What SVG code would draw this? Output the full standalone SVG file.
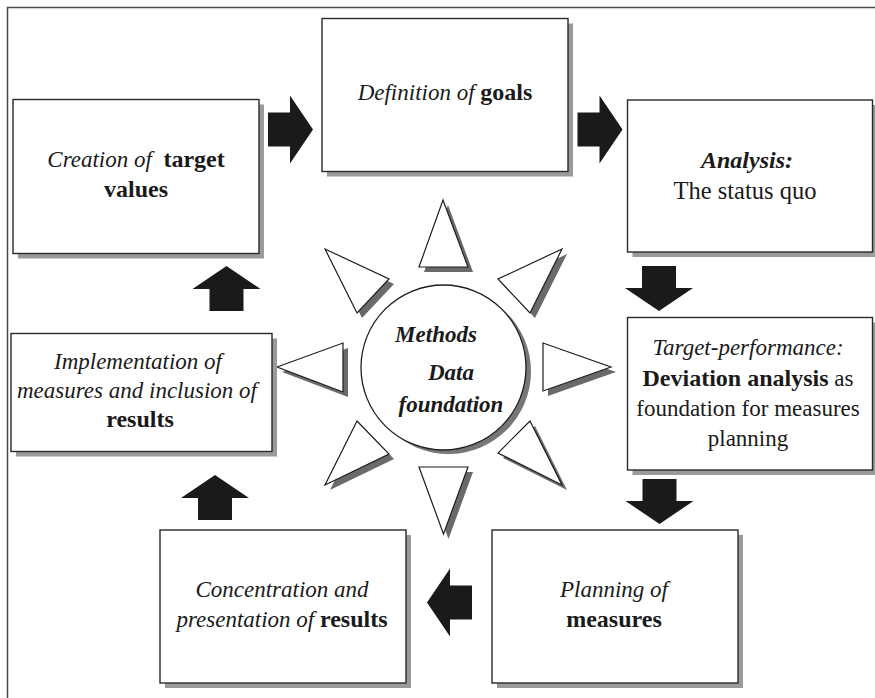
<svg xmlns="http://www.w3.org/2000/svg" width="875" height="698" viewBox="0 0 875 698" font-family="Liberation Serif, DejaVu Serif, serif">
  <style>
    text { font-size: 23px; fill: #1a1a1a; text-anchor: middle; }
    .i { font-style: italic; }
    .b { font-weight: bold; font-size: 24px; }
    .bi { font-weight: bold; font-style: italic; }
    .box { fill: #ffffff; stroke: #2a2a2a; stroke-width: 1.4; }
    .boxshadow { fill: #9a9a9a; }
    .ray { fill: #ffffff; stroke: #1e1e1e; stroke-width: 1.2; stroke-linejoin: miter; }
    .rayshadow { fill: #6a6a6a; }
    .frame { fill: none; stroke: #4a4a4a; stroke-width: 1.5; }
    .flow { fill: #1a1a1a; }
  </style>
  <defs>
    <!-- block arrow pointing right, tail at origin -->
    <path id="blockArrow" d="M0,-17 H22 V-34 L45,0 L22,34 V17 H0 Z"/>
  </defs>

  <rect width="875" height="698" fill="#ffffff"/>

  <!-- page frame (left and top rules) -->
  <path class="frame" d="M7.5,698 V7.5 H875"/>

  <!-- central hub: rays -->
  <g id="rays">
    <g class="rayshadow" transform="translate(5,5)">
      <polygon points="443,200 468,267 419,267"/>
      <polygon points="419,467 468,467 443.5,534"/>
      <polygon points="277,367 343,343 343,392"/>
      <polygon points="543,343 543,391 611,367"/>
      <polygon points="325,249 389,279 357,313"/>
      <polygon points="562,249 498,279 530,313"/>
      <polygon points="357,421 389,454 325,485"/>
      <polygon points="530,421 498,453 562,485"/>
    </g>
    <g class="ray">
      <polygon points="443,200 468,267 419,267"/>
      <polygon points="419,467 468,467 443.5,534"/>
      <polygon points="277,367 343,343 343,392"/>
      <polygon points="543,343 543,391 611,367"/>
      <polygon points="325,249 389,279 357,313"/>
      <polygon points="562,249 498,279 530,313"/>
      <polygon points="357,421 389,454 325,485"/>
      <polygon points="530,421 498,453 562,485"/>
    </g>
  </g>

  <g id="hub">
    <circle cx="448.5" cy="371.5" r="82.5" fill="#777777"/>
    <circle cx="443.5" cy="367.5" r="82.5" fill="#ffffff" stroke="#1e1e1e" stroke-width="1.3"/>
    <text class="bi" x="436" y="342">Methods</text>
    <text class="bi" x="451" y="380">Data</text>
    <text class="bi" x="451" y="412">foundation</text>
  </g>

  <!-- process steps -->
  <g id="step-target-values">
    <rect class="boxshadow" x="18" y="104.5" width="246" height="154"/>
    <rect class="box" x="13" y="99.5" width="246" height="154"/>
    <text x="136" y="167"><tspan class="i">Creation of&#160; </tspan><tspan class="b">target</tspan></text>
    <text class="b" x="136" y="197">values</text>
  </g>

  <g id="step-goals">
    <rect class="boxshadow" x="327" y="23.5" width="246" height="153"/>
    <rect class="box" x="322" y="18.5" width="246" height="153"/>
    <text x="445" y="100"><tspan class="i">Definition of </tspan><tspan class="b">goals</tspan></text>
  </g>

  <g id="step-analysis">
    <rect class="boxshadow" x="632.5" y="105" width="245" height="152"/>
    <rect class="box" x="627.5" y="100" width="245" height="152"/>
    <text class="bi" x="747" y="168" style="font-size:24px">Analysis:</text>
    <text x="745" y="199" style="font-size:24.5px">The status quo</text>
  </g>

  <g id="step-deviation">
    <rect class="boxshadow" x="632.5" y="322.5" width="245" height="152.5"/>
    <rect class="box" x="627.5" y="317.5" width="245" height="152.5"/>
    <text class="i" x="748" y="355">Target-performance:</text>
    <text x="748" y="386"><tspan class="b">Deviation analysis</tspan> as</text>
    <text x="748" y="416">foundation for measures</text>
    <text x="748" y="446">planning</text>
  </g>

  <g id="step-planning">
    <rect class="boxshadow" x="497" y="535" width="246" height="153"/>
    <rect class="box" x="492" y="530" width="246" height="153"/>
    <text class="i" x="614" y="597">Planning of</text>
    <text class="b" x="614" y="627">measures</text>
  </g>

  <g id="step-presentation">
    <rect class="boxshadow" x="165" y="535" width="246" height="153"/>
    <rect class="box" x="160" y="530" width="246" height="153"/>
    <text class="i" x="282" y="597">Concentration and</text>
    <text x="282" y="627"><tspan class="i">presentation of </tspan><tspan class="b">results</tspan></text>
  </g>

  <g id="step-implementation">
    <rect class="boxshadow" x="16" y="338.5" width="261" height="118"/>
    <rect class="box" x="11" y="333.5" width="261" height="118"/>
    <text class="i" x="138" y="369">Implementation of</text>
    <text class="i" x="137" y="398">measures and inclusion of</text>
    <text class="b" x="140" y="427">results</text>
  </g>

  <!-- flow arrows between steps -->
  <g id="connectors" class="flow">
    <use href="#blockArrow" transform="translate(268,129.5)"/>
    <use href="#blockArrow" transform="translate(577.5,129.5)"/>
    <use href="#blockArrow" transform="translate(659,266) rotate(90)"/>
    <use href="#blockArrow" transform="translate(659.5,479) rotate(90)"/>
    <use href="#blockArrow" transform="translate(472,602.5) rotate(180)"/>
    <use href="#blockArrow" transform="translate(215,520) rotate(-90)"/>
    <use href="#blockArrow" transform="translate(226.5,311) rotate(-90)"/>
  </g>
</svg>
